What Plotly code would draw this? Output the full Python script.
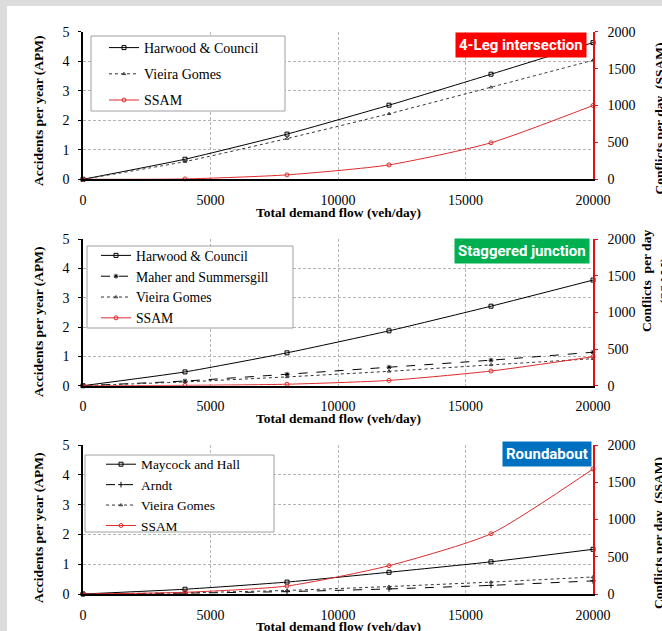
import plotly.graph_objects as go

W, H = 662, 631

# ---------------- data ----------------
flow = [0, 4000, 8000, 12000, 16000, 20000]

# 4-Leg intersection
harwood_4leg = [0, 0.68, 1.53, 2.51, 3.56, 4.63]
vieira_4leg = [0, 0.60, 1.38, 2.22, 3.12, 4.03]
ssam_4leg = [0, 5, 60, 195, 495, 1000]

# Staggered junction
harwood_stag = [0, 0.47, 1.12, 1.87, 2.71, 3.60]
maher_stag = [0, 0.16, 0.39, 0.63, 0.87, 1.14]
vieira_stag = [0, 0.13, 0.30, 0.49, 0.71, 0.92]
ssam_stag = [0, 5, 20, 72, 200, 395]

# Roundabout
maycock_rb = [0, 0.16, 0.40, 0.73, 1.08, 1.50]
arndt_rb = [0, 0.03, 0.08, 0.17, 0.29, 0.44]
vieira_rb = [0, 0.04, 0.12, 0.25, 0.40, 0.57]
ssam_rb = [0, 23, 107, 380, 809, 1678]

x_ticks = [0, 5000, 10000, 15000, 20000]
apm_ticks = [0, 1, 2, 3, 4, 5]
ssam_ticks = [0, 500, 1000, 1500, 2000]

panel_labels = ["4-Leg intersection", "Staggered junction", "Roundabout"]
panel_colors = ["#ff0000", "#00b050", "#0070c0"]

# ---------------- layout helpers ----------------
SERIF = "Liberation Serif, Times New Roman, serif"
RED = "#e01010"
LINE_RED = "#dd2b2b"
GRID = "#b4b4b4"
FRAME_GRAY = "#dcdcdc"


def px_x(p):
    return p / W


def px_y(p):
    return 1 - p / H


# pixel geometry of panels (top, bottom)
panels_px = [(31.7, 179.3), (239.0, 385.7), (445.0, 594.0)]
x_dom = [px_x(83), px_x(593)]

fig = go.Figure()

series_sets = [
    [("Harwood & Council", harwood_4leg, "solid", "square-open", "#000000", 4),
     ("Vieira Gomes", vieira_4leg, "dot", "triangle-up-open", "#333333", 3)],
    [("Harwood & Council", harwood_stag, "solid", "square-open", "#000000", 4),
     ("Maher and Summersgill", maher_stag, "dash", "asterisk-open", "#000000", 4),
     ("Vieira Gomes", vieira_stag, "dot", "triangle-up-open", "#333333", 3)],
    [("Maycock and Hall", maycock_rb, "solid", "square-open", "#000000", 4),
     ("Arndt", arndt_rb, "dash", "cross-thin-open", "#000000", 4),
     ("Vieira Gomes", vieira_rb, "dot", "triangle-up-open", "#333333", 3)],
]
ssam_sets = [ssam_4leg, ssam_stag, ssam_rb]

# legend: left px, top px, group gap, font size
legend_cfg = [(104, 32, 5, 14), (96, 240, 0, 13.7), (101, 449, 0, 13.4)]
# legend frame boxes (x0, y0, x1, y1) in px
legend_box = [(91, 36, 285, 111), (87, 246, 293, 328), (85, 455, 274, 532)]

for i in range(3):
    xa = "x" if i == 0 else f"x{i+1}"
    ya = "y" if i == 0 else f"y{2*i+1}"
    ya2 = f"y{2*i+2}"
    leg = "legend" if i == 0 else f"legend{i+1}"
    for j, (name, vals, dash, sym, col, msz) in enumerate(series_sets[i]):
        fig.add_trace(go.Scatter(
            x=flow, y=vals, name=name, xaxis=xa, yaxis=ya, legend=leg,
            legendgroup=f"g{i}{j}", mode="lines+markers",
            line=dict(color=col, width=1, dash=dash, shape="spline", smoothing=0.5),
            marker=dict(symbol=sym, size=msz, color=col, line=dict(width=1, color=col)),
            cliponaxis=False,
        ))
    fig.add_trace(go.Scatter(
        x=flow, y=ssam_sets[i], name="SSAM", xaxis=xa, yaxis=ya2, legend=leg,
        legendgroup=f"g{i}s", mode="lines+markers",
        line=dict(color=LINE_RED, width=1, shape="spline", smoothing=0.6),
        marker=dict(symbol="circle-open", size=4, color=LINE_RED, line=dict(width=1, color=LINE_RED)),
        cliponaxis=False,
    ))

layout = dict(
    width=W, height=H,
    margin=dict(l=0, r=0, t=0, b=0),
    paper_bgcolor="white",
    plot_bgcolor="rgba(0,0,0,0)",
    showlegend=True,
    font=dict(family=SERIF, size=14, color="black"),
)

for i in range(3):
    top, bot = panels_px[i]
    ydom = [px_y(bot), px_y(top)]
    xk = "xaxis" if i == 0 else f"xaxis{i+1}"
    yk = "yaxis" if i == 0 else f"yaxis{2*i+1}"
    y2k = f"yaxis{2*i+2}"
    yname = "y" if i == 0 else f"y{2*i+1}"
    xname = "x" if i == 0 else f"x{i+1}"
    layout[xk] = dict(
        domain=x_dom, anchor=yname, range=[0, 20000], tickvals=x_ticks,
        ticktext=[str(v) for v in x_ticks], showgrid=True, gridcolor=GRID,
        griddash="3px,2px", gridwidth=1, zeroline=False, showline=True,
        linecolor="black", linewidth=1.5, ticks="", ticklabelstandoff=7,
        tickfont=dict(family=SERIF, size=14, color="black"), automargin=False,
    )
    layout[yk] = dict(
        domain=ydom, anchor=xname, range=[0, 5], tickvals=apm_ticks,
        showgrid=True, gridcolor=GRID, griddash="3px,2px", gridwidth=1,
        zeroline=False, showline=True, linecolor="black", linewidth=1.5,
        ticks="outside", ticklen=3, tickcolor="black", ticklabelstandoff=6,
        tickfont=dict(family=SERIF, size=14, color="black"), automargin=False,
    )
    layout[y2k] = dict(
        overlaying=yname, anchor=xname, side="right", range=[0, 2000],
        tickvals=ssam_ticks, showgrid=False, zeroline=False, showline=True,
        linecolor=RED, linewidth=1.5, ticks="outside", ticklen=3, tickcolor=RED,
        ticklabelstandoff=7, tickfont=dict(family=SERIF, size=14, color="black"),
        automargin=False,
    )
    lx, ly, gap, fsz = legend_cfg[i]
    lk = "legend" if i == 0 else f"legend{i+1}"
    layout[lk] = dict(
        x=px_x(lx), y=px_y(ly), xanchor="left", yanchor="top",
        bgcolor="rgba(0,0,0,0)", borderwidth=0,
        font=dict(family=SERIF, size=fsz, color="black"),
        traceorder="grouped", tracegroupgap=gap, itemwidth=30,
    )

fig.update_layout(**layout)

# gray frame strips (top and left) of the page
fig.add_shape(type="rect", xref="paper", yref="paper", x0=0, x1=1.0,
              y0=px_y(6), y1=1.0, fillcolor=FRAME_GRAY, line=dict(width=0), layer="below")
fig.add_shape(type="rect", xref="paper", yref="paper", x0=0, x1=px_x(7),
              y0=0, y1=1.0, fillcolor=FRAME_GRAY, line=dict(width=0), layer="below")

# legend frames
for (x0, y0, x1, y1) in legend_box:
    fig.add_shape(type="rect", xref="paper", yref="paper", x0=px_x(x0), x1=px_x(x1),
                  y0=px_y(y1), y1=px_y(y0), fillcolor="white",
                  line=dict(width=1, color="#a0a0a0"), layer="above")

ann = []
label_px = [(586.7, 32), (589.5, 238), (592, 441)]
for i in range(3):
    rx, ty = label_px[i]
    ann.append(dict(
        x=px_x(rx), y=px_y(ty), xref="paper", yref="paper", xanchor="right", yanchor="top",
        text=f"<b>{panel_labels[i]}</b>", showarrow=False, bgcolor=panel_colors[i],
        borderpad=3, font=dict(family="Liberation Sans Narrow, Roboto, sans-serif", size=15, color="white"),
    ))

left_title_y = [111, 322, 528]
xtitle_y = [212.7, 418, 626]
right_titles = [("Conflicts per day  (SSAM)", 659.5, 119),
                ("Conflicts  per day<br>(SSAM)", 655, 281),
                ("Conflicts per day  (SSAM)", 658, 533)]
for i in range(3):
    ann.append(dict(x=px_x(38), y=px_y(left_title_y[i]), xref="paper", yref="paper",
                    text="<b>Accidents per year (APM)</b>", textangle=-90, showarrow=False,
                    xanchor="center", yanchor="middle",
                    font=dict(family=SERIF, size=13.5, color="black")))
    ann.append(dict(x=px_x(338), y=px_y(xtitle_y[i]), xref="paper", yref="paper",
                    text="<b>Total demand flow (veh/day)</b>", showarrow=False,
                    xanchor="center", yanchor="middle",
                    font=dict(family=SERIF, size=13.5, color="black")))
    t, rx, ry = right_titles[i]
    ann.append(dict(x=px_x(rx), y=px_y(ry), xref="paper", yref="paper",
                    text=f"<b>{t}</b>", textangle=-90, showarrow=False,
                    xanchor="center", yanchor="middle",
                    font=dict(family=SERIF, size=13.5, color="black")))

fig.update_layout(annotations=ann)
fig.write_html(
    "out.html",
    config={"displayModeBar": False},
    post_script="document.body.style.margin='0';document.body.style.overflow='hidden';",
)
